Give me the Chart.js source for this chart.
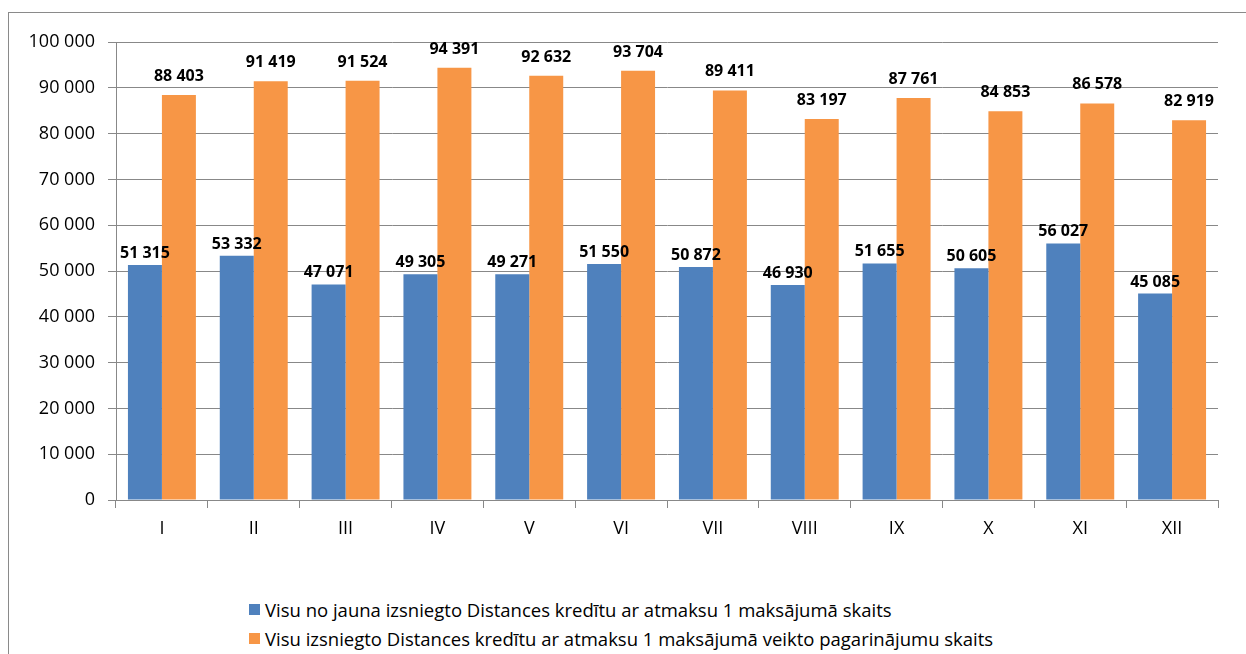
<!DOCTYPE html>
<html lang="lv">
<head>
<meta charset="utf-8">
<script src="https://cdn.jsdelivr.net/npm/chart.js@4.4.1/dist/chart.umd.min.js"></script>
<style>
  html, body { margin: 0; padding: 0; background: #fff; overflow: hidden; }
  body { width: 1246px; height: 654px; position: relative; font-family: "Open Sans", Calibri, sans-serif; }
  .frame { position: absolute; left: 8px; top: 12px; width: 1400px; height: 800px; border: 1px solid #8a8a8a; box-sizing: border-box; }
  .wrap { position: absolute; left: 0; top: 0; width: 1246px; height: 560px; }
  .legend { position: absolute; left: 249px; top: 595px; font-size: 18.5px; color: #000; }
  .legend-row { display: flex; align-items: center; height: 29px; }
  .legend-row .sw { width: 11px; height: 11px; margin-right: 5px; }
</style>
</head>
<body>
<div class="frame"></div>
<div class="wrap"><canvas id="chart" width="1246" height="560"></canvas></div>
<div class="legend" id="legend"></div>
<script>
const months = ['I', 'II', 'III', 'IV', 'V', 'VI', 'VII', 'VIII', 'IX', 'X', 'XI', 'XII'];
const newLoans = [51315, 53332, 47071, 49305, 49271, 51550, 50872, 46930, 51655, 50605, 56027, 45085];
const extensions = [88403, 91419, 91524, 94391, 92632, 93704, 89411, 83197, 87761, 84853, 86578, 82919];
const seriesNames = [
  'Visu no jauna izsniegto Distances kredītu ar atmaksu 1 maksājumā skaits',
  'Visu izsniegto Distances kredītu ar atmaksu 1 maksājumā veikto pagarinājumu skaits'
];
const seriesColors = ['#4F81BD', '#F79646'];

const fmtNum = v => String(v).replace(/\B(?=(\d{3})+(?!\d))/g, ' ');
const GRID = '#888888';
const AXIS_FONT = { family: '"Open Sans", Calibri, sans-serif', size: 18 };

// value labels above each bar
const barValues = {
  id: 'barValues',
  afterDatasetsDraw(chart) {
    const ctx = chart.ctx;
    ctx.save();
    ctx.font = 'bold 16px "Open Sans", Calibri, sans-serif';
    ctx.fillStyle = '#000';
    ctx.textAlign = 'center';
    ctx.textBaseline = 'alphabetic';
    chart.data.datasets.forEach((ds, i) => {
      const gap = i === 0 ? 7 : 14;
      chart.getDatasetMeta(i).data.forEach((bar, j) => {
        ctx.fillText(fmtNum(ds.data[j]), bar.x, bar.y - gap);
      });
    });
    ctx.restore();
  }
};

document.getElementById('legend').innerHTML = seriesNames.map((n, i) =>
  `<div class="legend-row"><span class="sw" style="background:${seriesColors[i]}"></span>${n}</div>`).join('');

new Chart(document.getElementById('chart'), {
  type: 'bar',
  data: {
    labels: months,
    datasets: [
      { label: seriesNames[0], data: newLoans, backgroundColor: seriesColors[0] },
      { label: seriesNames[1], data: extensions, backgroundColor: seriesColors[1] }
    ]
  },
  options: {
    responsive: false,
    animation: false,
    events: [],
    categoryPercentage: 0.74,
    barPercentage: 1,
    layout: { padding: { left: 0, right: 28, top: 42, bottom: 0 } },
    plugins: { legend: { display: false }, tooltip: { enabled: false } },
    scales: {
      x: {
        afterFit: s => { s.height = 60; },
        grid: { offset: true, drawOnChartArea: false, drawTicks: true, tickLength: 8, color: GRID },
        border: { color: GRID },
        ticks: { color: '#000', font: AXIS_FONT, padding: 10 }
      },
      y: {
        min: 0, max: 100000,
        afterFit: s => { s.width = 116; },
        grid: { color: GRID, tickLength: 8 },
        border: { color: GRID },
        ticks: { stepSize: 10000, color: '#000', font: AXIS_FONT, padding: 13, callback: v => fmtNum(v) }
      }
    }
  },
  plugins: [barValues]
});
</script>
</body>
</html>
